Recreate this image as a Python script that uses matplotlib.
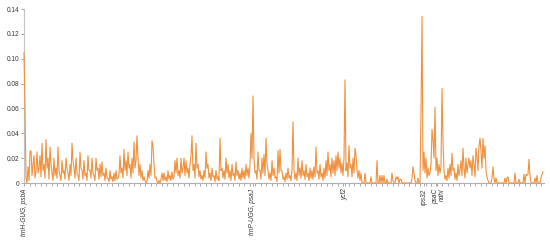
import matplotlib

matplotlib.use("Agg")
import matplotlib.pyplot as plt
import numpy as np

# nucleotide diversity per sliding window (one value per pixel column)
pi_values = [
    0.105, 0.060, 0.004, 0.000, 0.013, 0.002, 0.025, 0.026, 0.006, 0.015, 0.022, 0.004, 0.010, 0.025, 0.008, 0.012, 0.022, 0.005, 0.032, 0.010,
    0.015, 0.004, 0.035, 0.012, 0.020, 0.003, 0.029, 0.015, 0.008, 0.002, 0.020, 0.006, 0.012, 0.004, 0.029, 0.010, 0.006, 0.002, 0.018, 0.008,
    0.010, 0.003, 0.020, 0.012, 0.008, 0.002, 0.015, 0.006, 0.032, 0.018, 0.012, 0.004, 0.020, 0.008, 0.006, 0.002, 0.025, 0.012, 0.010, 0.003,
    0.018, 0.006, 0.008, 0.002, 0.022, 0.010, 0.010, 0.004, 0.020, 0.008, 0.006, 0.002, 0.020, 0.010, 0.012, 0.003, 0.015, 0.005, 0.017, 0.006,
    0.008, 0.002, 0.012, 0.004, 0.004, 0.001, 0.010, 0.003, 0.005, 0.001, 0.008, 0.002, 0.010, 0.003, 0.004, 0.007, 0.022, 0.008, 0.012, 0.004,
    0.027, 0.010, 0.018, 0.006, 0.025, 0.012, 0.015, 0.004, 0.020, 0.008, 0.033, 0.012, 0.018, 0.038, 0.020, 0.006, 0.015, 0.004, 0.010, 0.002,
    0.005, 0.002, 0.000, 0.001, 0.010, 0.004, 0.015, 0.006, 0.034, 0.030, 0.015, 0.004, 0.005, 0.001, 0.000, 0.002, 0.000, 0.003, 0.008, 0.002,
    0.008, 0.002, 0.005, 0.001, 0.010, 0.003, 0.006, 0.002, 0.009, 0.003, 0.005, 0.018, 0.008, 0.020, 0.006, 0.010, 0.004, 0.020, 0.008, 0.012,
    0.020, 0.006, 0.018, 0.008, 0.012, 0.004, 0.015, 0.022, 0.038, 0.010, 0.015, 0.004, 0.032, 0.012, 0.015, 0.005, 0.010, 0.003, 0.006, 0.002,
    0.010, 0.004, 0.025, 0.012, 0.015, 0.004, 0.008, 0.002, 0.012, 0.005, 0.006, 0.001, 0.010, 0.003, 0.005, 0.002, 0.036, 0.010, 0.012, 0.004,
    0.010, 0.003, 0.020, 0.008, 0.015, 0.004, 0.010, 0.002, 0.015, 0.006, 0.008, 0.002, 0.017, 0.006, 0.010, 0.003, 0.008, 0.002, 0.012, 0.004,
    0.010, 0.003, 0.015, 0.006, 0.012, 0.004, 0.015, 0.040, 0.020, 0.070, 0.020, 0.008, 0.010, 0.003, 0.025, 0.010, 0.010, 0.003, 0.020, 0.008,
    0.023, 0.006, 0.036, 0.015, 0.010, 0.003, 0.008, 0.002, 0.018, 0.006, 0.012, 0.004, 0.005, 0.001, 0.026, 0.008, 0.027, 0.010, 0.010, 0.003,
    0.005, 0.001, 0.008, 0.003, 0.012, 0.004, 0.006, 0.002, 0.010, 0.049, 0.010, 0.003, 0.008, 0.002, 0.020, 0.006, 0.012, 0.004, 0.018, 0.006,
    0.010, 0.003, 0.015, 0.005, 0.008, 0.002, 0.012, 0.004, 0.010, 0.003, 0.013, 0.005, 0.029, 0.008, 0.010, 0.003, 0.015, 0.005, 0.008, 0.002,
    0.012, 0.004, 0.018, 0.006, 0.025, 0.010, 0.015, 0.005, 0.020, 0.008, 0.018, 0.006, 0.022, 0.010, 0.025, 0.012, 0.020, 0.008, 0.016, 0.006,
    0.020, 0.083, 0.010, 0.016, 0.005, 0.030, 0.012, 0.015, 0.005, 0.020, 0.008, 0.028, 0.022, 0.010, 0.004, 0.010, 0.002, 0.008, 0.000, 0.000,
    0.000, 0.008, 0.000, 0.000, 0.000, 0.000, 0.000, 0.005, 0.000, 0.000, 0.000, 0.000, 0.000, 0.018, 0.000, 0.000, 0.006, 0.000, 0.006, 0.000,
    0.006, 0.000, 0.000, 0.003, 0.000, 0.000, 0.000, 0.000, 0.008, 0.002, 0.000, 0.000, 0.005, 0.003, 0.005, 0.000, 0.003, 0.003, 0.000, 0.000,
    0.000, 0.000, 0.000, 0.000, 0.000, 0.000, 0.000, 0.000, 0.004, 0.013, 0.008, 0.002, 0.000, 0.000, 0.004, 0.000, 0.000, 0.056, 0.134, 0.010,
    0.025, 0.008, 0.020, 0.004, 0.012, 0.006, 0.008, 0.015, 0.043, 0.035, 0.020, 0.061, 0.010, 0.020, 0.006, 0.015, 0.008, 0.013, 0.076, 0.033,
    0.010, 0.003, 0.006, 0.002, 0.012, 0.004, 0.015, 0.006, 0.024, 0.010, 0.012, 0.003, 0.008, 0.002, 0.015, 0.006, 0.010, 0.018, 0.006, 0.028,
    0.012, 0.004, 0.020, 0.008, 0.015, 0.020, 0.012, 0.018, 0.006, 0.022, 0.015, 0.005, 0.028, 0.020, 0.010, 0.030, 0.036, 0.025, 0.012, 0.036,
    0.020, 0.030, 0.010, 0.005, 0.002, 0.000, 0.000, 0.000, 0.004, 0.013, 0.004, 0.000, 0.004, 0.000, 0.000, 0.000, 0.000, 0.000, 0.000, 0.000,
    0.000, 0.004, 0.000, 0.004, 0.005, 0.000, 0.000, 0.000, 0.000, 0.000, 0.000, 0.008, 0.000, 0.000, 0.000, 0.003, 0.000, 0.000, 0.000, 0.000,
    0.007, 0.000, 0.007, 0.006, 0.007, 0.019, 0.006, 0.000, 0.000, 0.000, 0.000, 0.004, 0.000, 0.006, 0.000, 0.000, 0.000, 0.004, 0.007, 0.009,
]
gene_pos = [0, 229, 321, 400, 412, 418]
gene_labels = ["trnH-GUG, psbA", "trnP-UGG, psaJ", "ycf2", "rps32", "psaC", "ndhI"]
y_ticks = [0, 0.02, 0.04, 0.06, 0.08, 0.10, 0.12, 0.14]
y_labels = ["0", "0.02", "0.04", "0.06", "0.08", "0.10", "0.12", "0.14"]

plt.rcParams["font.family"] = ["Liberation Sans", "DejaVu Sans"]

fig = plt.figure(figsize=(5.5, 2.41), dpi=100)
ax = fig.add_axes([24 / 550, 1 - 183 / 241, 520 / 550, 174 / 241])

x = np.arange(len(pi_values))
ax.plot(x, pi_values, color="#f0913e", lw=0.8, zorder=3, clip_on=False)

ax.set_xlim(0, len(pi_values))
ax.set_ylim(0, 0.14)

for side in ("top", "right"):
    ax.spines[side].set_visible(False)
ax.spines["left"].set_color("#c4c4c4")
ax.spines["bottom"].set_color("#b0b0b0")
ax.spines["left"].set_linewidth(0.8)
ax.spines["bottom"].set_linewidth(0.8)

ax.set_yticks(y_ticks)
ax.set_yticklabels(y_labels)
ax.tick_params(axis="y", length=2, width=0.6, color="#999999", pad=1.5,
               labelsize=4.7, labelcolor="#333333")

ax.set_xticks(gene_pos)
ax.set_xticklabels(gene_labels, rotation=90, style="italic")
ax.set_xticks(np.arange(0, len(pi_values), 5.5), minor=True)
ax.tick_params(axis="x", which="major", length=2.5, width=0.6, color="#999999",
               pad=1.5, labelsize=4.7, labelcolor="#333333")
ax.tick_params(axis="x", which="minor", length=2.5, width=0.6, color="#999999")

fig.savefig("out.png", dpi=100)
